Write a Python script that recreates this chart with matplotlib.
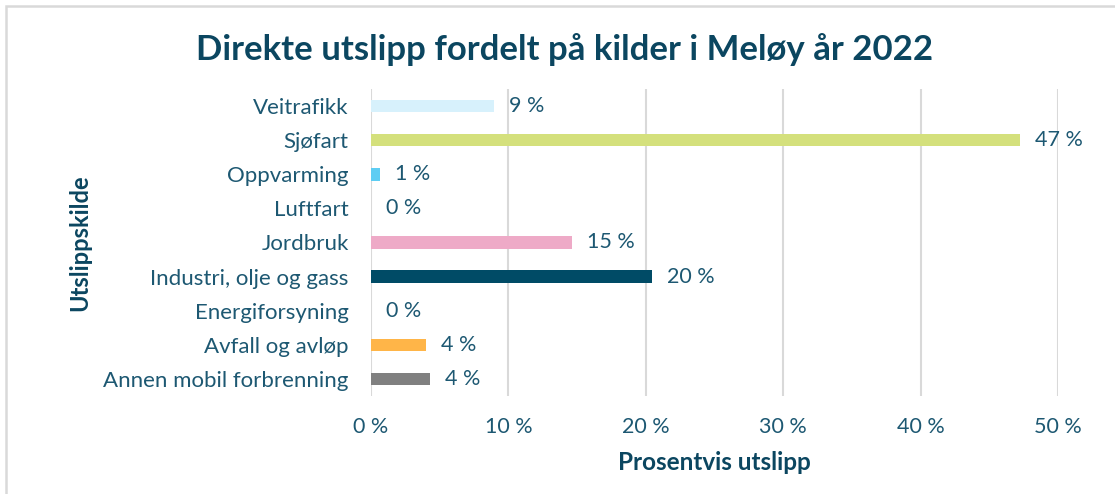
import matplotlib
matplotlib.use("Agg")
import matplotlib.pyplot as plt
from matplotlib.patches import Rectangle
from matplotlib.ticker import FuncFormatter

# Utslippskilder, ovenfra og ned
kilder = ["Veitrafikk", "Sjøfart", "Oppvarming", "Luftfart", "Jordbruk",
          "Industri, olje og gass", "Energiforsyning", "Avfall og avløp",
          "Annen mobil forbrenning"]
andel = [8.95, 47.25, 0.65, 0.0, 14.6, 20.45, 0.0, 3.98, 4.29]
farger = ["#d7f1fc", "#d4e07c", "#5ecdf3", "#ffffff", "#eeaac7",
          "#004b66", "#ffffff", "#ffb548", "#808080"]
xticks = [0, 10, 20, 30, 40, 50]

TEKST = "#1d5872"
TITTEL = "#0b4660"
plt.rcParams['font.family'] = ['Lato', 'DejaVu Sans']

fig = plt.figure(figsize=(11.15, 4.94), dpi=100)
ax = fig.add_axes([371 / 1115, 1 - 396 / 494, 687 / 1115, 307 / 494])

y = list(range(len(kilder)))
ax.barh(y, andel, height=0.37, color=farger, zorder=3)
for yi, v in zip(y, andel):
    ax.annotate(f"{v:.0f} %", (v, yi), xytext=(11, 0), textcoords="offset points",
                va="center", ha="left", fontsize=15.5, color=TEKST)

ax.set_ylim(len(kilder) - 0.5, -0.5)
ax.set_xlim(0, 50)
ax.set_yticks(y)
ax.set_yticklabels(kilder, fontsize=16, color=TEKST)
ax.set_xticks(xticks)
ax.xaxis.set_major_formatter(FuncFormatter(lambda v, p: f"{v:.0f} %"))
for lab in ax.get_xticklabels():
    lab.set_fontsize(15.5)
    lab.set_color(TEKST)
ax.tick_params(axis="both", length=0)
ax.tick_params(axis="x", pad=15)
ax.tick_params(axis="y", pad=16)
ax.grid(axis="x", color="#d9d9d9", linewidth=1.5, zorder=0)
for s in ax.spines.values():
    s.set_visible(False)

ax.set_xlabel("Prosentvis utslipp", fontsize=17.5, fontweight="bold", color=TITTEL, labelpad=10)
fig.text(80 / 1115, 1 - 243 / 494, "Utslippskilde", rotation=90, ha="center", va="center",
         fontsize=17, fontweight="bold", color=TITTEL)
fig.text(565 / 1115, 1 - 50 / 494, "Direkte utslipp fordelt på kilder i Meløy år 2022",
         ha="center", va="center", fontsize=25, fontweight="bold", color=TITTEL)

# ramme rundt diagrammet
fig.patches.append(Rectangle((6 / 1115, -0.1), 1.2, 1 - 6 / 494 + 0.1, transform=fig.transFigure,
                             fill=False, edgecolor="#d9d9d9", linewidth=1.8))

fig.savefig("out.png", dpi=100)
